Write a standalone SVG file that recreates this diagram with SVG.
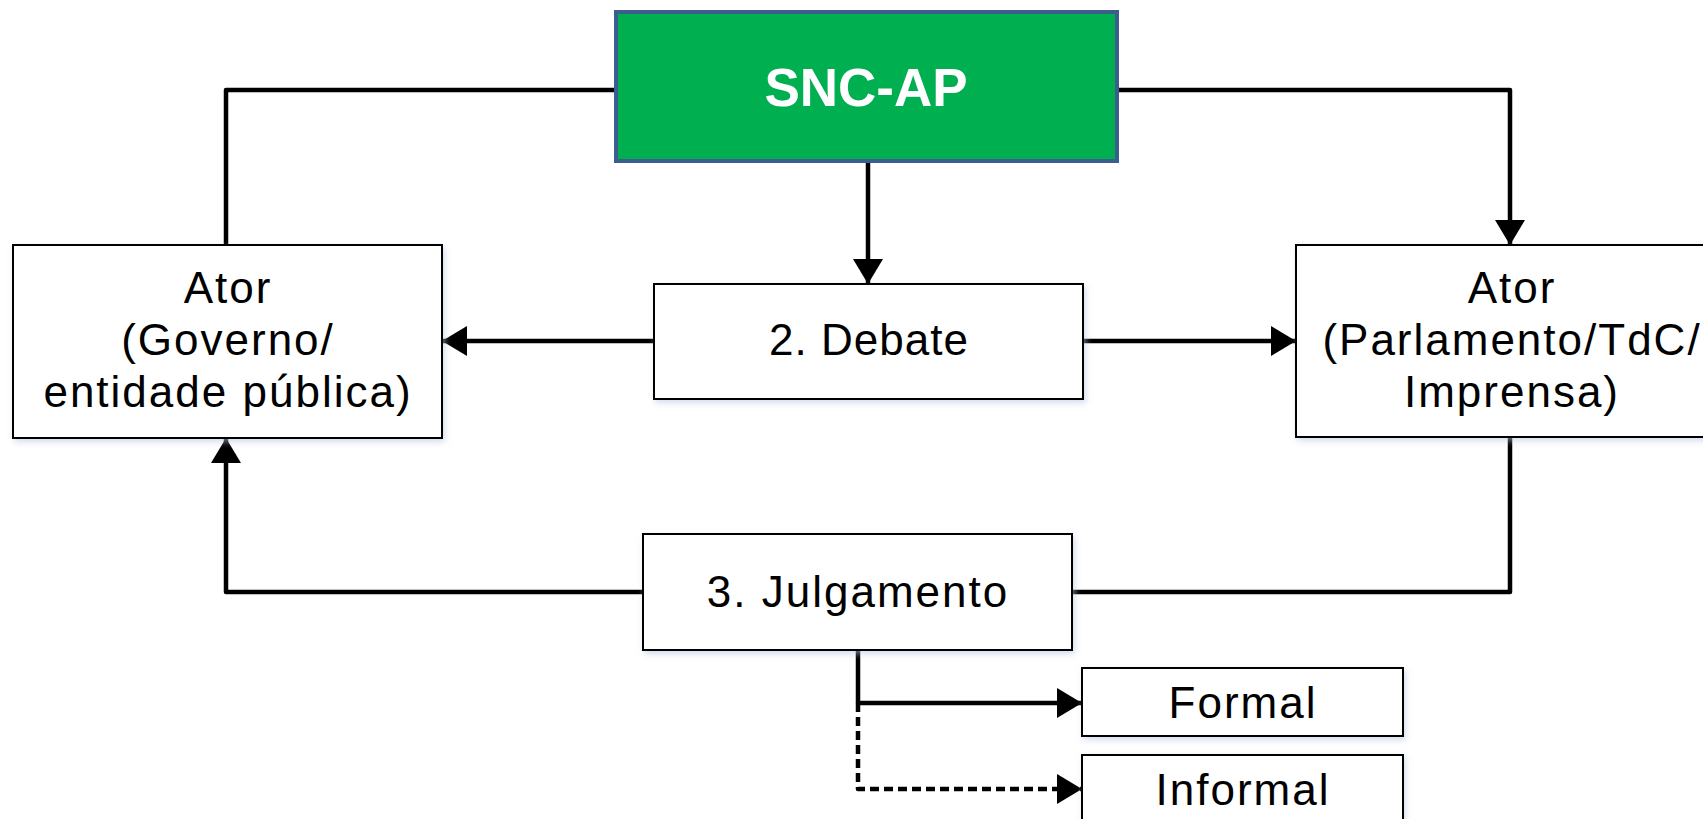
<svg xmlns="http://www.w3.org/2000/svg" width="1703" height="819" viewBox="0 0 1703 819">
<style>
.box{fill:#ffffff;stroke:#000000;stroke-width:2;filter:url(#sh)}
.lbl{font-family:"Liberation Sans",Arial,sans-serif;font-size:44px;fill:#000000;text-anchor:middle;letter-spacing:2px}
.title{font-family:"Liberation Sans",Arial,sans-serif;font-size:53px;font-weight:bold;fill:#ffffff;text-anchor:middle}
.con{fill:none;stroke:#000000;stroke-width:4.5;stroke-linejoin:round}
.dash{stroke-dasharray:9,5}
</style>
<defs>
<filter id="sh" x="-10%" y="-10%" width="130%" height="130%">
<feDropShadow dx="2" dy="3" stdDeviation="3" flood-color="#b8c8e0" flood-opacity="0.6"/>
</filter>
<marker id="arr" markerUnits="userSpaceOnUse" markerWidth="26" markerHeight="30" refX="25" refY="15" orient="auto" viewBox="0 0 26 30">
<path d="M0,0 L25,15 L0,30 Z" fill="#000000"/>
</marker>
</defs>
<rect width="1703" height="819" fill="#ffffff"/>
<g id="connectors">
<path class="con" d="M616,90 H226 V245"/>
<path class="con" d="M1117,90 H1510 V245" marker-end="url(#arr)"/>
<path class="con" d="M868,162 V284" marker-end="url(#arr)"/>
<path class="con" d="M654,341 H442" marker-end="url(#arr)"/>
<path class="con" d="M1083,341 H1296" marker-end="url(#arr)"/>
<path class="con" d="M1510,437 V592 H1072"/>
<path class="con" d="M643,592 H226 V438" marker-end="url(#arr)"/>
<path class="con" d="M858,650 V703 H1082" marker-end="url(#arr)"/>
<path class="con dash" d="M858,703 V789 H1082" marker-end="url(#arr)"/>
</g>
<g id="snc-ap">
<rect x="616" y="12" width="501" height="149" fill="#00B050" stroke="#3B5E8F" stroke-width="4"/>
<text class="title" x="866" y="106">SNC-AP</text>
</g>
<g id="ator-governo">
<rect class="box" x="13" y="245" width="429" height="193"/>
<text class="lbl" x="228" y="303">Ator</text>
<text class="lbl" x="228" y="355">(Governo/</text>
<text class="lbl" x="228" y="407">entidade pública)</text>
</g>
<g id="debate">
<rect class="box" x="654" y="284" width="429" height="115"/>
<text class="lbl" x="869" y="355" style="letter-spacing:1px">2. Debate</text>
</g>
<g id="ator-parlamento">
<rect class="box" x="1296" y="245" width="432" height="192"/>
<text class="lbl" x="1512" y="303">Ator</text>
<text class="lbl" x="1512" y="355">(Parlamento/TdC/</text>
<text class="lbl" x="1512" y="407">Imprensa)</text>
</g>
<g id="julgamento">
<rect class="box" x="643" y="534" width="429" height="116"/>
<text class="lbl" x="858" y="607">3. Julgamento</text>
</g>
<g id="formal">
<rect class="box" x="1082" y="668" width="321" height="68"/>
<text class="lbl" x="1243" y="718">Formal</text>
</g>
<g id="informal">
<rect class="box" x="1082" y="755" width="321" height="68"/>
<text class="lbl" x="1243" y="805">Informal</text>
</g>
</svg>
